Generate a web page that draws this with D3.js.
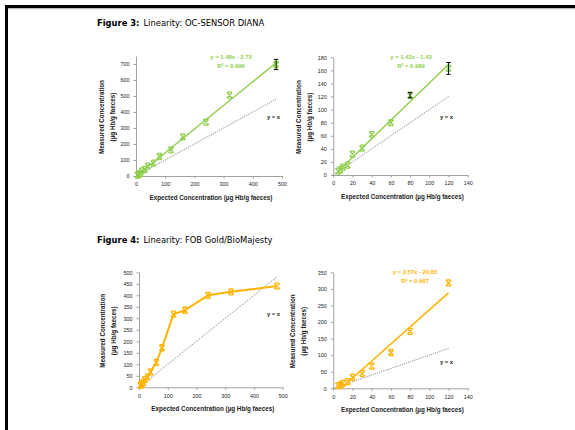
<!DOCTYPE html>
<html><head><meta charset="utf-8">
<script src="https://cdn.jsdelivr.net/npm/d3@7"></script>
<style>html,body{margin:0;padding:0;background:#fff;}</style>
</head><body>
<svg id="c" width="575" height="430"></svg>
<script>
// ---- data ----
const expected = [5, 7.5, 10, 15, 20, 30, 40, 60, 80, 120, 160, 240, 320, 480];
const ocMeasured = [6, 8, 12, 15, 32, 41, 62, 80, 122, 163, 245, 337, 505, 697];
const ocError = [0, 0, 0, 0, 0, 0, 0, 0, 4, 9, 0, 0, 0, 32];
const fobMeasured = [8, 10, 15, 20, 33, 45, 67, 108, 172, 318, 335, 400, 415, 440];
const ticksX500 = [0, 100, 200, 300, 400, 500];
const ticksX140 = [0, 20, 40, 60, 80, 100, 120, 140];
const ticksY700 = [0, 100, 200, 300, 400, 500, 600, 700];
const ticksY180 = [0, 20, 40, 60, 80, 100, 120, 140, 160, 180];
const ticksY500 = [0, 50, 100, 150, 200, 250, 300, 350, 400, 450, 500];
const ticksY350 = [0, 50, 100, 150, 200, 250, 300, 350];
const fits = { oc500: [1.48, -2.73], oc140: [1.42, -1.43], fob140: [2.57, -20.65] };
const fitLabels = {
  oc500: ["y = 1.48x - 2.73", "R\u00b2 = 0.996"],
  oc140: ["y = 1.42x - 1.43", "R\u00b2 = 0.989"],
  fob140: ["y = 2.57x - 20.65", "R\u00b2 = 0.967"]
};
const titles = [
  ["Figure 3:", "Linearity: OC-SENSOR DIANA"],
  ["Figure 4:", "Linearity: FOB Gold/BioMajesty"]
];
const xTitle = "Expected Concentration (\u00b5g Hb/g faeces)";
const yTitle1 = "Measured Concentration";
const yTitle2 = "(\u00b5g Hb/g faeces)";

const GREEN = "#8fcf4c", ORANGE = "#ffb300";
const svg = d3.select("#c");

// page border
svg.append("rect").attr("x", 5).attr("y", 5).attr("width", 570).attr("height", 3).attr("fill", "#000");
svg.append("rect").attr("x", 8).attr("y", 8).attr("width", 567).attr("height", 1.2).attr("fill", "#bbb");
svg.append("rect").attr("x", 5).attr("y", 5).attr("width", 3).attr("height", 425).attr("fill", "#000");

// figure titles
[[97, 26, 0], [97, 243, 1]].forEach(([x, y, i]) => {
  const t = svg.append("text").attr("x", x).attr("y", y)
    .style("font-family", "DejaVu Sans, Verdana, sans-serif").style("font-size", "8.4px").attr("fill", "#000");
  t.append("tspan").attr("font-weight", "bold").text(titles[i][0]);
  t.append("tspan").attr("dx", 4).text(titles[i][1]);
});

function panel(o) {
  const g = svg.append("g");
  const x = d3.scaleLinear().domain(o.xDomain).range([o.x0, o.x1]);
  const y = d3.scaleLinear().domain(o.yDomain).range([o.y0, o.y1]);
  const n = o.xs.length;
  const font = "Liberation Sans, Arial, sans-serif";

  // axes
  const ax = g.append("g").attr("transform", `translate(0,${o.y0})`)
    .call(d3.axisBottom(x).tickValues(o.xTicks).tickSize(2.5).tickSizeOuter(0));
  const ay = g.append("g").attr("transform", `translate(${o.x0},0)`)
    .call(d3.axisLeft(y).tickValues(o.yTicks).tickSize(2.5).tickSizeOuter(0));
  [ax, ay].forEach(a => {
    a.select(".domain").attr("stroke", "#999").attr("stroke-width", 0.9);
    a.selectAll(".tick line").attr("stroke", "#999").attr("stroke-width", 0.9);
    a.selectAll("text").style("font-family", font).style("font-size", "5.4px").attr("fill", "#222");
  });
  ax.selectAll("text").attr("dy", "0.9em");
  ay.selectAll("text").attr("dx", "-0.2em");

  // axis titles
  g.append("text").attr("x", (o.x0 + o.x1) / 2 + o.xtOff).attr("y", o.y0 + 24)
    .attr("text-anchor", "middle").style("font-family", font).style("font-size", "6.3px")
    .attr("font-weight", "bold").attr("fill", "#222").text(xTitle);
  const cy = (o.y0 + o.y1) / 2 + 1;
  [[o.ytx, yTitle1], [o.ytx + 11, yTitle2]].forEach(([tx, s]) => {
    g.append("text").attr("transform", `translate(${tx},${cy}) rotate(-90)`)
      .attr("text-anchor", "middle").style("font-family", font).style("font-size", "6.3px")
      .attr("font-weight", "bold").attr("fill", "#222").text(s);
  });

  // y = x dotted line
  g.append("line").attr("x1", x(0)).attr("y1", y(0)).attr("x2", x(o.idMax)).attr("y2", y(o.idMax))
    .attr("stroke", "#555").attr("stroke-width", 0.8).attr("stroke-dasharray", "1,1.2");
  g.append("text").attr("x", o.yxPos[0]).attr("y", o.yxPos[1])
    .style("font-family", font).style("font-size", "5.8px").attr("font-weight", "bold")
    .attr("fill", "#222").text("y = x");

  const idx = d3.range(n).filter(i => o.xs[i] <= o.xDomain[1]);

  // data line or trend line
  if (o.connect) {
    g.append("path").datum(idx).attr("fill", "none").attr("stroke", o.color).attr("stroke-width", 2)
      .attr("stroke-linejoin", "round")
      .attr("d", d3.line().x(i => x(o.xs[i])).y(i => y(o.ys[i])));
  }
  if (o.fit) {
    const [m, b] = o.fit;
    const xa = Math.max(o.xs[0], -b / m), xb = o.xs[idx[idx.length - 1]];
    g.append("line").attr("x1", x(xa)).attr("y1", y(m * xa + b)).attr("x2", x(xb)).attr("y2", y(m * xb + b))
      .attr("stroke", o.color).attr("stroke-width", 1.5);
    o.fitText.forEach((s, k) => {
      g.append("text").attr("x", o.fitPos[0]).attr("y", o.fitPos[1] + k * 8.5)
        .attr("text-anchor", "middle").style("font-family", font).style("font-size", "5.9px")
        .attr("font-weight", "bold").attr("fill", o.color).text(s);
    });
  }

  // markers
  const mk = g.selectAll(".m").data(idx).join("g")
    .attr("transform", i => `translate(${x(o.xs[i])},${y(o.ys[i])})`);
  mk.append("path").attr("d", "M-2.7,-2.7L2.7,2.7M-2.7,2.7L2.7,-2.7M-2.2,-3H2.2M-2.2,3H2.2")
    .attr("stroke", o.color).attr("stroke-width", 1.3).attr("fill", "none");

  // error bars (only shown where they extend noticeably)
  if (o.err) {
    const vis = idx.filter(i => o.err[i] > 0 && Math.abs(y(o.err[i]) - y(0)) > 2);
    const eb = g.selectAll(".e").data(vis).join("g");
    eb.append("line").attr("x1", i => x(o.xs[i])).attr("x2", i => x(o.xs[i]))
      .attr("y1", i => y(o.ys[i] - o.err[i])).attr("y2", i => y(o.ys[i] + o.err[i]))
      .attr("stroke", "#000").attr("stroke-width", 0.9);
    [-1, 1].forEach(sg => {
      eb.append("line").attr("x1", i => x(o.xs[i]) - 2.2).attr("x2", i => x(o.xs[i]) + 2.2)
        .attr("y1", i => y(o.ys[i] + sg * o.err[i])).attr("y2", i => y(o.ys[i] + sg * o.err[i]))
        .attr("stroke", "#000").attr("stroke-width", 1);
    });
  }
}

panel({ x0: 136, x1: 282, y0: 176, y1: 56, xDomain: [0, 500], yDomain: [0, 750],
  xTicks: ticksX500, yTicks: ticksY700, xs: expected, ys: ocMeasured, err: ocError,
  color: GREEN, fit: fits.oc500, fitText: fitLabels.oc500, fitPos: [231, 59],
  idMax: 480, yxPos: [267, 119], ytx: 104, xtOff: 2 });
panel({ x0: 333.3, x1: 467.7, y0: 175, y1: 57.3, xDomain: [0, 140], yDomain: [0, 180],
  xTicks: ticksX140, yTicks: ticksY180, xs: expected, ys: ocMeasured, err: ocError,
  color: GREEN, fit: fits.oc140, fitText: fitLabels.oc140, fitPos: [411, 59],
  idMax: 120, yxPos: [440, 119], ytx: 301, xtOff: 2 });
panel({ x0: 139, x1: 282.7, y0: 387.3, y1: 272.3, xDomain: [0, 500], yDomain: [0, 500],
  xTicks: ticksX500, yTicks: ticksY500, xs: expected, ys: fobMeasured, err: null,
  color: ORANGE, connect: true, fit: null,
  idMax: 480, yxPos: [267, 316], ytx: 105, xtOff: 2 });
panel({ x0: 333.3, x1: 467.7, y0: 388.3, y1: 272.3, xDomain: [0, 140], yDomain: [0, 350],
  xTicks: ticksX140, yTicks: ticksY350, xs: expected, ys: fobMeasured, err: null,
  color: ORANGE, fit: fits.fob140, fitText: fitLabels.fob140, fitPos: [415, 274],
  idMax: 120, yxPos: [440, 364], ytx: 295, xtOff: 2 });
</script>
</body></html>
